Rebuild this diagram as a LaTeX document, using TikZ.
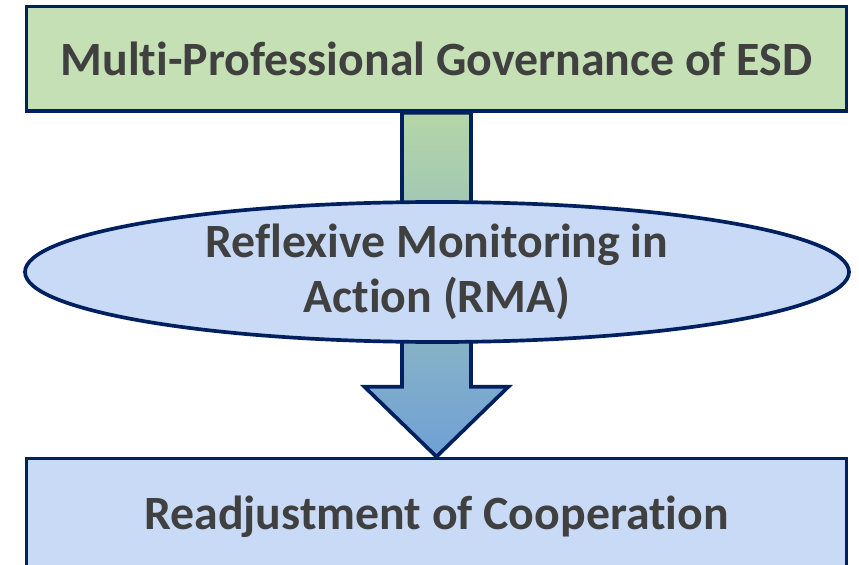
\documentclass[tikz,border=0pt]{standalone}
\usepackage{fontspec}
\setmainfont[Ligatures=NoCommon]{Carlito}
\usetikzlibrary{shapes.geometric}

\definecolor{navy}{HTML}{002060}
\definecolor{boxgreen}{HTML}{C5E0B4}
\definecolor{boxblue}{HTML}{C8DAF5}
\definecolor{textgray}{HTML}{404040}
\definecolor{arrowtop}{HTML}{B5D6A7}
\definecolor{arrowmid}{HTML}{AACADF}
\definecolor{arrowbot}{HTML}{6FA0D6}

\tikzset{
    stagebox/.style={draw=navy, line width=1.05pt, inner sep=0pt,
        text=textgray, font=\fontsize{13.6}{15.6}\selectfont\bfseries},
    blockarrow/.style={draw=navy, line width=1.05pt, line join=miter,
        top color=arrowtop, middle color=arrowmid, bottom color=arrowbot}
}

\begin{document}
\begin{tikzpicture}
    \useasboundingbox (0,0) rectangle (8.59,5.65);

    \node[stagebox, fill=boxgreen, minimum width=8.20cm, minimum height=1.045cm]
        (governance) at (4.365,5.063) {Multi-Professional Governance of ESD};
    \node[stagebox, fill=boxblue, minimum width=8.20cm, minimum height=1.17cm]
        (readjust) at (4.365,0.48) {Readjustment of Cooperation};

    % block arrow behind the ellipse
    \draw[blockarrow] ([xshift=-0.345cm]governance.south) -- ++(0,-2.74)
        -- ++(-0.375,0) -- (readjust.north) -- ++(0.72,0.70) -- ++(-0.375,0)
        -- ([xshift=0.345cm]governance.south) -- cycle;

    \node[stagebox, ellipse, fill=boxblue, align=center,
        minimum width=8.24cm, minimum height=1.40cm]
        (rma) at (4.37,2.93) {Reflexive Monitoring in\\Action (RMA)};
\end{tikzpicture}
\end{document}
